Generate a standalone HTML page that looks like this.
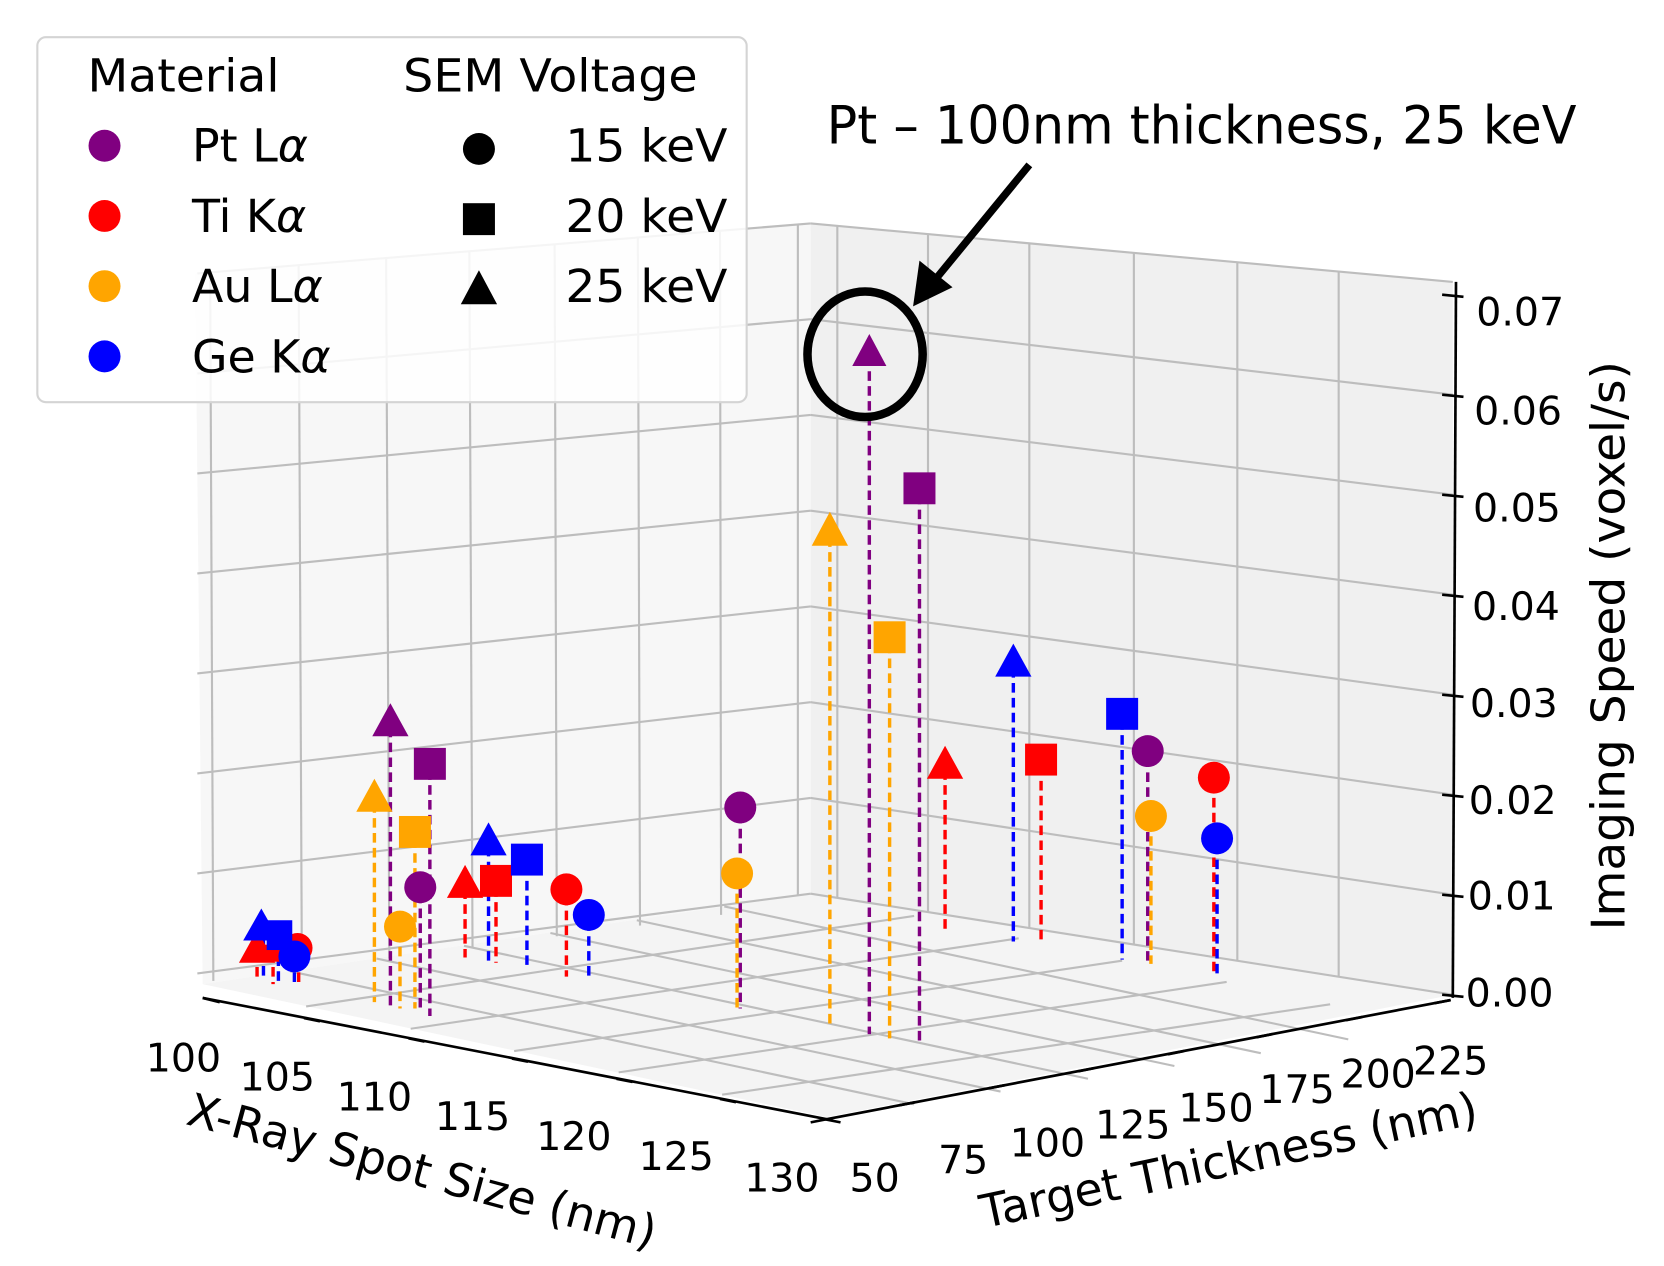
<!DOCTYPE html>
<html><head><meta charset="utf-8"><style>
html,body{margin:0;padding:0;background:#fff;}
svg{display:block;}
text{font-family:"DejaVu Sans","Liberation Sans",sans-serif;fill:#000;}
</style></head><body>
<svg width="1664" height="1266" viewBox="0 0 1560 1190" preserveAspectRatio="none" xmlns="http://www.w3.org/2000/svg">
<rect width="1560" height="1190" fill="#fff"/>
<!-- panes -->
<polygon points="183,257 760,210 760,840 190,925" fill="#f7f7f7"/>
<polygon points="760,210 1362,265 1362,935 760,840" fill="#f0f0f0"/>
<polygon points="190,925 760,840 1362,935 775,1050" fill="#f4f4f4"/>
<g stroke="#bdbdbd" stroke-width="2" fill="none">
<line x1="185" y1="915" x2="760" y2="840"/><line x1="185" y1="821" x2="760" y2="750"/>
<line x1="185" y1="727" x2="760" y2="660"/><line x1="185" y1="633" x2="760" y2="570"/>
<line x1="185" y1="539" x2="760" y2="480"/><line x1="185" y1="445" x2="760" y2="390"/>
<line x1="185" y1="351" x2="760" y2="300"/><line x1="185" y1="257" x2="760" y2="210"/>
<line x1="197" y1="256" x2="200" y2="922"/><line x1="280" y1="249" x2="283" y2="912"/>
<line x1="362" y1="242" x2="365" y2="901"/><line x1="440" y1="236" x2="443" y2="891"/>
<line x1="520" y1="229" x2="522" y2="880"/><line x1="598" y1="223" x2="600" y2="870"/>
<line x1="675" y1="217" x2="676" y2="860"/><line x1="748" y1="211" x2="748" y2="842"/>
<line x1="760" y1="840" x2="1362" y2="935"/><line x1="760" y1="750" x2="1362" y2="841"/>
<line x1="760" y1="660" x2="1362" y2="747"/><line x1="760" y1="570" x2="1362" y2="653"/>
<line x1="760" y1="480" x2="1362" y2="559"/><line x1="760" y1="390" x2="1362" y2="465"/>
<line x1="760" y1="300" x2="1362" y2="371"/><line x1="760" y1="210" x2="1362" y2="265"/>
<line x1="785" y1="212" x2="785" y2="844"/><line x1="870" y1="220" x2="870" y2="857"/>
<line x1="965" y1="229" x2="965" y2="872"/><line x1="1063" y1="238" x2="1063" y2="888"/>
<line x1="1160" y1="247" x2="1160" y2="903"/><line x1="1255" y1="255" x2="1255" y2="918"/>
<line x1="272" y1="913" x2="857" y2="1038"/><line x1="353" y1="901" x2="938" y2="1026"/>
<line x1="435" y1="889" x2="1020" y2="1014"/><line x1="516" y1="877" x2="1101" y2="1002"/>
<line x1="597" y1="865" x2="1182" y2="990"/><line x1="679" y1="852" x2="1264" y2="977"/>
<line x1="287" y1="946" x2="857" y2="861"/><line x1="385" y1="967" x2="955" y2="882"/>
<line x1="482" y1="988" x2="1052" y2="903"/><line x1="580" y1="1008" x2="1150" y2="923"/>
<line x1="677" y1="1029" x2="1247" y2="944"/>
</g>
<g stroke="#000" stroke-width="2.5" fill="none">
<line x1="190" y1="938" x2="775" y2="1052"/>
<line x1="775" y1="1052" x2="1360" y2="940"/>
<line x1="1365" y1="265" x2="1362" y2="938"/>
<line x1="190" y1="938" x2="206" y2="942"/><line x1="285" y1="957" x2="300" y2="960"/>
<line x1="383" y1="976" x2="398" y2="979"/><line x1="480" y1="995" x2="495" y2="998"/>
<line x1="578" y1="1014" x2="593" y2="1017"/><line x1="675" y1="1033" x2="690" y2="1036"/>
<line x1="773" y1="1052" x2="788" y2="1055"/>
<line x1="775" y1="1052" x2="760" y2="1055"/><line x1="858" y1="1036" x2="843" y2="1039"/>
<line x1="942" y1="1020" x2="927" y2="1023"/><line x1="1026" y1="1004" x2="1011" y2="1007"/>
<line x1="1110" y1="988" x2="1095" y2="991"/><line x1="1193" y1="972" x2="1178" y2="975"/>
<line x1="1277" y1="956" x2="1262" y2="959"/><line x1="1360" y1="940" x2="1345" y2="943"/>
<line x1="1352" y1="935" x2="1372" y2="937"/><line x1="1352" y1="841" x2="1372" y2="843"/>
<line x1="1352" y1="747" x2="1372" y2="749"/><line x1="1352" y1="653" x2="1372" y2="655"/>
<line x1="1352" y1="559" x2="1372" y2="561"/><line x1="1352" y1="465" x2="1372" y2="467"/>
<line x1="1352" y1="371" x2="1372" y2="373"/><line x1="1352" y1="277" x2="1372" y2="279"/>
</g>
<g font-size="37" text-anchor="middle">
<text x="172" y="1007">100</text><text x="260" y="1025">105</text><text x="351" y="1044">110</text>
<text x="443" y="1062">115</text><text x="538" y="1081">120</text><text x="634" y="1100">125</text>
<text x="733" y="1120">130</text>
<text x="820" y="1120">50</text><text x="903" y="1103">75</text><text x="982" y="1087">100</text>
<text x="1062" y="1070">125</text><text x="1140" y="1054">150</text><text x="1216" y="1037">175</text>
<text x="1292" y="1022">200</text><text x="1360" y="1010">225</text>
</g>
<g font-size="37">
<text x="1384" y="306">0.07</text><text x="1382" y="399">0.06</text><text x="1381" y="490">0.05</text>
<text x="1380" y="583">0.04</text><text x="1378" y="674">0.03</text><text x="1377" y="765">0.02</text>
<text x="1376" y="855">0.01</text><text x="1374" y="946">0.00</text>
</g>
<g font-size="43">
<text transform="translate(392,1115) rotate(15)" text-anchor="middle">X-Ray Spot Size (nm)</text>
<text transform="translate(1155,1105) rotate(-12)" text-anchor="middle">Target Thickness (nm)</text>
<text transform="translate(1523,607) rotate(-90)" text-anchor="middle" textLength="535" lengthAdjust="spacingAndGlyphs">Imaging Speed (voxel/s)</text>
</g>
<g stroke-width="3.2" stroke-dasharray="9,5" fill="none">
<line x1="815" y1="335" x2="815" y2="972" stroke="#800080"/>
<line x1="862" y1="465" x2="862" y2="980" stroke="#800080"/>
<line x1="778" y1="505" x2="778" y2="966" stroke="#ffa500"/>
<line x1="834" y1="605" x2="834" y2="976" stroke="#ffa500"/>
<line x1="950" y1="628" x2="950" y2="885" stroke="#0000ff"/>
<line x1="886" y1="724" x2="886" y2="873" stroke="#ff0000"/>
<line x1="976" y1="720" x2="976" y2="888" stroke="#ff0000"/>
<line x1="1052" y1="677" x2="1052" y2="902" stroke="#0000ff"/>
<line x1="1076" y1="712" x2="1076" y2="906" stroke="#800080"/>
<line x1="1079" y1="772" x2="1079" y2="906" stroke="#ffa500"/>
<line x1="1138" y1="736" x2="1138" y2="915" stroke="#ff0000"/>
<line x1="1141" y1="794" x2="1141" y2="915" stroke="#0000ff"/>
<line x1="694" y1="765" x2="694" y2="948" stroke="#800080"/>
<line x1="691" y1="826" x2="691" y2="948" stroke="#ffa500"/>
<line x1="366" y1="684" x2="366" y2="946" stroke="#800080"/>
<line x1="403" y1="724" x2="403" y2="955" stroke="#800080"/>
<line x1="351" y1="755" x2="351" y2="942" stroke="#ffa500"/>
<line x1="389" y1="788" x2="389" y2="948" stroke="#ffa500"/>
<line x1="394" y1="840" x2="394" y2="950" stroke="#800080"/>
<line x1="375" y1="876" x2="375" y2="948" stroke="#ffa500"/>
<line x1="458" y1="796" x2="458" y2="905" stroke="#0000ff"/>
<line x1="436" y1="836" x2="436" y2="900" stroke="#ff0000"/>
<line x1="465" y1="834" x2="465" y2="905" stroke="#ff0000"/>
<line x1="494" y1="814" x2="494" y2="912" stroke="#0000ff"/>
<line x1="531" y1="842" x2="531" y2="918" stroke="#ff0000"/>
<line x1="552" y1="866" x2="552" y2="920" stroke="#0000ff"/>
<line x1="241" y1="895" x2="241" y2="922" stroke="#ff0000"/>
<line x1="247" y1="880" x2="247" y2="922" stroke="#0000ff"/>
<line x1="256" y1="895" x2="256" y2="925" stroke="#ff0000"/>
<line x1="261" y1="885" x2="261" y2="925" stroke="#0000ff"/>
<line x1="276" y1="900" x2="276" y2="928" stroke="#0000ff"/>
<line x1="280" y1="900" x2="280" y2="928" stroke="#ff0000"/>
</g>
<g>
<polygon points="815,314 831,344 799,344" fill="#800080"/>
<rect x="847" y="444" width="30" height="30" fill="#800080"/>
<polygon points="778,481 795,513 761,513" fill="#ffa500"/>
<rect x="819" y="584" width="30" height="30" fill="#ffa500"/>
<polygon points="950,605 967,636 933,636" fill="#0000ff"/>
<polygon points="886,701 903,732 869,732" fill="#ff0000"/>
<rect x="961" y="699" width="30" height="30" fill="#ff0000"/>
<rect x="1037" y="656" width="30" height="30" fill="#0000ff"/>
<circle cx="1076" cy="706" r="15" fill="#800080"/>
<circle cx="1079" cy="767" r="15" fill="#ffa500"/>
<circle cx="1138" cy="731" r="15" fill="#ff0000"/>
<circle cx="1141" cy="788" r="15" fill="#0000ff"/>
<circle cx="694" cy="759" r="15" fill="#800080"/>
<circle cx="691" cy="821" r="15" fill="#ffa500"/>
<polygon points="366,661 383,692 349,692" fill="#800080"/>
<rect x="388" y="703" width="30" height="30" fill="#800080"/>
<polygon points="351,732 368,763 334,763" fill="#ffa500"/>
<rect x="374" y="767" width="30" height="30" fill="#ffa500"/>
<circle cx="394" cy="834" r="15" fill="#800080"/>
<circle cx="375" cy="871" r="15" fill="#ffa500"/>
<polygon points="458,773 475,804 441,804" fill="#0000ff"/>
<polygon points="436,813 453,844 419,844" fill="#ff0000"/>
<rect x="450" y="813" width="30" height="30" fill="#ff0000"/>
<rect x="479" y="793" width="30" height="30" fill="#0000ff"/>
<circle cx="531" cy="836" r="15" fill="#ff0000"/>
<circle cx="552" cy="860" r="15" fill="#0000ff"/>
<circle cx="279" cy="891" r="14" fill="#ff0000"/>
<polygon points="241,874 258,905 224,905" fill="#ff0000"/>
<rect x="243" y="888" width="22" height="16" fill="#ff0000"/>
<polygon points="245,854 262,884 228,884" fill="#0000ff"/>
<rect x="250" y="865" width="24" height="28" fill="#0000ff"/>
<circle cx="276" cy="899" r="15" fill="#0000ff"/>
</g>
<rect x="35" y="35" width="665" height="343" rx="8" fill="#fff" fill-opacity="0.85" stroke="#d4d4d4" stroke-width="2"/>
<g font-size="43">
<text x="82" y="86" textLength="180" lengthAdjust="spacingAndGlyphs">Material</text>
<text x="378" y="86" textLength="276" lengthAdjust="spacingAndGlyphs">SEM Voltage</text>
<text x="180" y="152">Pt L<tspan font-style="italic">α</tspan></text>
<text x="180" y="218">Ti K<tspan font-style="italic">α</tspan></text>
<text x="180" y="284">Au L<tspan font-style="italic">α</tspan></text>
<text x="180" y="350">Ge K<tspan font-style="italic">α</tspan></text>
<text x="530" y="152" textLength="152" lengthAdjust="spacingAndGlyphs">15 keV</text>
<text x="530" y="218" textLength="152" lengthAdjust="spacingAndGlyphs">20 keV</text>
<text x="530" y="284" textLength="152" lengthAdjust="spacingAndGlyphs">25 keV</text>
</g>
<circle cx="98" cy="137" r="15" fill="#800080"/>
<circle cx="98" cy="203" r="15" fill="#ff0000"/>
<circle cx="98" cy="269" r="15" fill="#ffa500"/>
<circle cx="98" cy="335" r="15" fill="#0000ff"/>
<circle cx="449" cy="140" r="15" fill="#000"/>
<rect x="434" y="191" width="30" height="30" fill="#000"/>
<polygon points="449,254 466,286 432,286" fill="#000"/>
<text x="775" y="135" font-size="49" font-family="Liberation Sans, sans-serif" textLength="703" lengthAdjust="spacingAndGlyphs">Pt – 100nm thickness, 25 keV</text>
<line x1="965" y1="155" x2="875" y2="265" stroke="#000" stroke-width="7"/>
<polygon points="856,288 862,245 893,270" fill="#000"/>
<ellipse cx="811" cy="333" rx="54" ry="59" fill="none" stroke="#000" stroke-width="8"/>
</svg>
</body></html>
